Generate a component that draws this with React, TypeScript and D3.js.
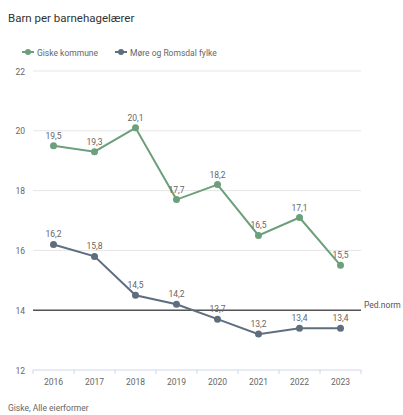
import { useEffect, useRef } from 'react'
import * as d3 from 'd3'

const years = ['2016', '2017', '2018', '2019', '2020', '2021', '2022', '2023']
const giske = [19.5, 19.3, 20.1, 17.7, 18.2, 16.5, 17.1, 15.5]
const fylke = [16.2, 15.8, 14.5, 14.2, 13.7, 13.2, 13.4, 13.4]
const yTicks = [12, 14, 16, 18, 20, 22]
const pedNorm = 14

const seriesNames = ['Giske kommune', 'Møre og Romsdal fylke']
const seriesColors = ['#6c9f7b', '#5f6e7f']

export default function App() {
  const ref = useRef<SVGSVGElement>(null)

  useEffect(() => {
    if (!ref.current) return
    const svg = d3.select(ref.current)
    svg.selectAll('*').remove()

    const width = 403
    const height = 415
    const font = 'Roboto, "Noto Sans", sans-serif'
    svg.attr('width', width).attr('height', height).style('font-family', font)

    const left = 33
    const right = 361
    const x = d3.scaleBand<string>().domain(years).range([left, right])
    const y = d3.scaleLinear().domain([12, 22]).range([370, 71])
    const cx = (d: string) => (x(d) ?? 0) + x.bandwidth() / 2

    // title
    svg.append('text')
      .attr('x', 8).attr('y', 22)
      .style('font-size', '11.5px').style('fill', '#333')
      .text('Barn per barnehagelærer')

    // legend
    const legendX = [22, 115]
    seriesNames.forEach((name, i) => {
      const g = svg.append('g').attr('transform', `translate(${legendX[i]},52)`)
      g.append('line').attr('x1', 0).attr('x2', 12).attr('y1', 0).attr('y2', 0)
        .attr('stroke', seriesColors[i]).attr('stroke-width', 2)
      g.append('circle').attr('cx', 6).attr('cy', 0).attr('r', 3).attr('fill', seriesColors[i])
      g.append('text').attr('x', 15).attr('y', 3.5)
        .style('font-size', '8.5px').style('fill', '#666').text(name)
    })

    // grid + y labels
    yTicks.forEach(t => {
      if (t !== 12) {
        svg.append('line').attr('x1', left).attr('x2', right)
          .attr('y1', y(t)).attr('y2', y(t))
          .attr('stroke', '#e6e6e6').attr('stroke-width', 1)
      }
      svg.append('text').attr('x', 25).attr('y', y(t) + 3.5)
        .attr('text-anchor', 'end')
        .style('font-size', '8.5px').style('fill', '#666').text(t)
    })

    // x axis
    svg.append('line').attr('x1', left).attr('x2', right)
      .attr('y1', y(12)).attr('y2', y(12))
      .attr('stroke', '#ccd6eb').attr('stroke-width', 1)
    const bounds = years.map(d => x(d) ?? 0).concat([right])
    bounds.forEach(b => {
      svg.append('line').attr('x1', b).attr('x2', b)
        .attr('y1', y(12)).attr('y2', y(12) + 4)
        .attr('stroke', '#ccd6eb').attr('stroke-width', 1)
    })
    years.forEach(d => {
      svg.append('text').attr('x', cx(d)).attr('y', y(12) + 15)
        .attr('text-anchor', 'middle')
        .style('font-size', '8.5px').style('fill', '#666').text(d)
    })

    // ped norm line
    svg.append('line').attr('x1', left).attr('x2', right)
      .attr('y1', y(pedNorm)).attr('y2', y(pedNorm))
      .attr('stroke', '#555').attr('stroke-width', 1.5)
    svg.append('text').attr('x', right + 3).attr('y', y(pedNorm) - 2)
      .style('font-size', '8.5px').style('fill', '#555').text('Ped.norm')

    // series
    const allSeries = [giske, fylke]
    allSeries.forEach((vals, i) => {
      const line = d3.line<number>()
        .x((_, j) => cx(years[j]))
        .y(v => y(v))
      svg.append('path').datum(vals).attr('d', line)
        .attr('fill', 'none').attr('stroke', seriesColors[i]).attr('stroke-width', 2)
      vals.forEach((v, j) => {
        svg.append('circle').attr('cx', cx(years[j])).attr('cy', y(v)).attr('r', 3.5)
          .attr('fill', seriesColors[i])
        svg.append('text').attr('x', cx(years[j])).attr('y', y(v) - 7)
          .attr('text-anchor', 'middle')
          .style('font-size', '8.5px').style('fill', '#666')
          .text(String(v).replace('.', ','))
      })
    })

    // source
    svg.append('text').attr('x', 8).attr('y', 411)
      .style('font-size', '8.5px').style('fill', '#666')
      .text('Giske, Alle eierformer')
  }, [])

  return <svg ref={ref} style={{ position: 'absolute', left: 0, top: 0 }}></svg>
}
